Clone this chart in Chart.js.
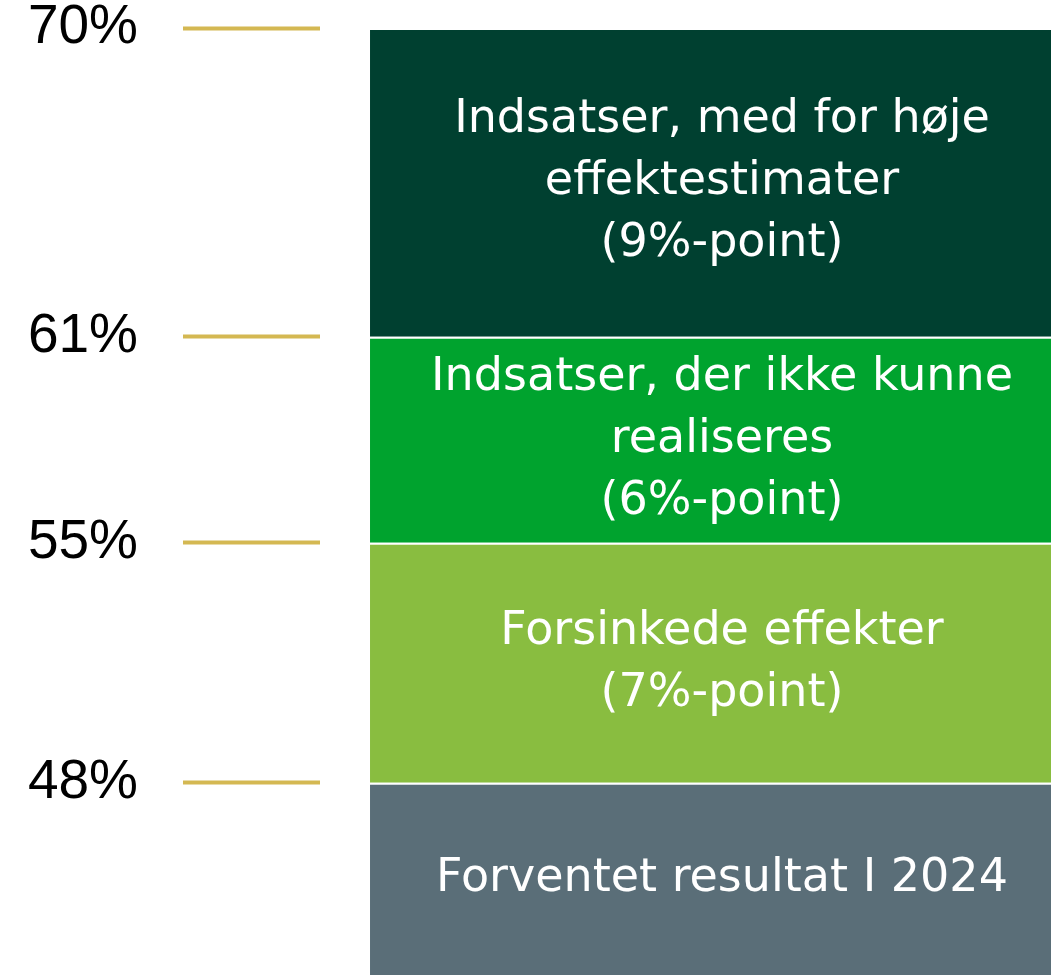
<!DOCTYPE html>
<html>
<head>
<meta charset="utf-8">
<script src="https://cdn.jsdelivr.net/npm/chart.js@4"></script>
<style>
  html, body { margin: 0; padding: 0; background: #fff; overflow: hidden; }
  #wrap { width: 1124px; height: 975px; }
</style>
</head>
<body>
<div id="wrap"><canvas id="myStackChart"></canvas></div>
<script>
// values (percent / percentage points)
const categories = ['2024'];
const segmentNames = ['Forventet resultat I 2024', 'Forsinkede effekter', 'Indsatser, der ikke kunne realiseres', 'Indsatser, med for høje effektestimater'];
const segmentValues = [48, 7, 6, 9];
const segmentText = [
  ['Forventet resultat I 2024'],
  ['Forsinkede effekter', '(7%-point)'],
  ['Indsatser, der ikke kunne', 'realiseres', '(6%-point)'],
  ['Indsatser, med for høje', 'effektestimater', '(9%-point)']
];
const tickValues = [48, 55, 61, 70];
const segmentColors = ['#5a6e78', '#89bd40', '#00a32e', '#004030'];

const datasets = segmentValues.map((v, i) => ({
  label: segmentNames[i],
  data: [v],
  backgroundColor: segmentColors[i],
  borderColor: '#ffffff',
  borderWidth: { top: 2, bottom: 0, left: 0, right: 0 },
  borderSkipped: false,
  barPercentage: 0.8756,
  categoryPercentage: 1
}));

// writes the white text in the middle of each visible segment
const segmentTextPlugin = {
  id: 'segmentText',
  afterDatasetsDraw(chart) {
    const ctx = chart.ctx;
    const area = chart.chartArea;
    ctx.save();
    ctx.fillStyle = '#ffffff';
    ctx.font = '46px "DejaVu Sans"';
    ctx.textAlign = 'center';
    ctx.textBaseline = 'middle';
    chart.data.datasets.forEach((ds, i) => {
      const bar = chart.getDatasetMeta(i).data[0];
      const top = Math.max(bar.y, area.top);
      const bottom = Math.min(bar.base, area.bottom);
      const mid = (top + bottom) / 2;
      const lines = segmentText[i];
      const lh = 62;
      lines.forEach((t, j) => {
        ctx.fillText(t, bar.x, mid + (j - (lines.length - 1) / 2) * lh);
      });
    });
    ctx.restore();
  }
};

const stackConfig = {
  type: 'bar',
  data: { labels: categories, datasets: datasets },
  options: {
    responsive: true,
    maintainAspectRatio: false,
    animation: false,
    layout: { padding: { top: 28, right: 0, bottom: 0, left: 0 } },
    plugins: {
      legend: { display: false },
      tooltip: { enabled: false }
    },
    scales: {
      x: { stacked: true, display: false },
      y: {
        stacked: true,
        min: 42.4,
        max: 70,
        border: { display: false },
        afterBuildTicks: (scale) => {
          scale.ticks = tickValues.map(v => ({ value: v }));
        },
        afterFit: (scale) => {
          scale.width = 320;
          scale.paddingTop = 0;
          scale.paddingBottom = 0;
        },
        grid: {
          drawOnChartArea: false,
          drawTicks: true,
          tickLength: 137,
          tickWidth: 4,
          tickColor: '#d4b852'
        },
        ticks: {
          padding: 45,
          color: '#000000',
          font: { family: '"Liberation Sans", Arial, sans-serif', size: 55 },
          callback: (v) => v + '%'
        }
      }
    }
  },
  plugins: [segmentTextPlugin]
};

const myStackChart = new Chart(document.getElementById('myStackChart'), stackConfig);
</script>
</body>
</html>
